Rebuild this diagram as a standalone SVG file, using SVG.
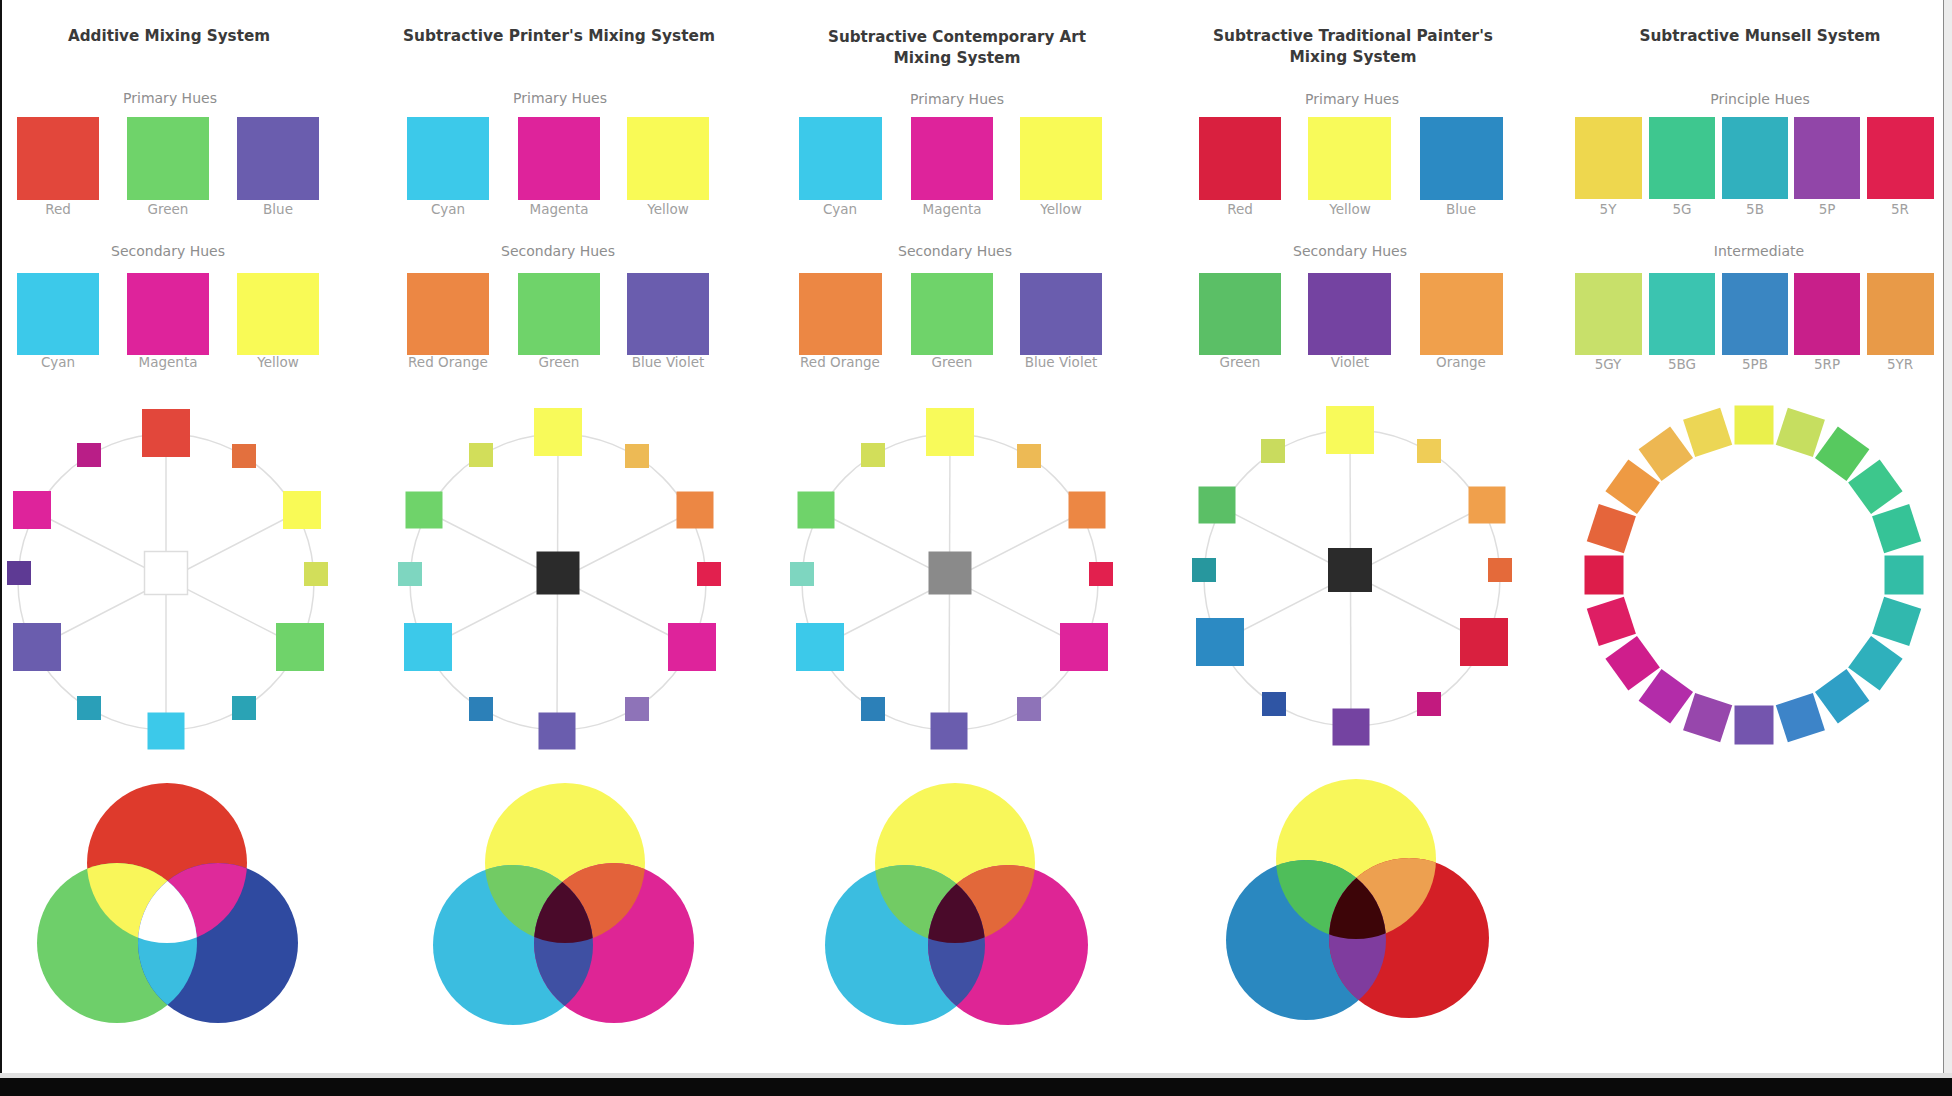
<svg xmlns="http://www.w3.org/2000/svg" width="1952" height="1096" viewBox="0 0 1952 1096">
<style>
.title{font-family:"DejaVu Sans","Liberation Sans",sans-serif;font-weight:bold;font-size:15px;fill:#3a3a3a;text-anchor:middle}
.sub{font-family:"DejaVu Sans","Liberation Sans",sans-serif;font-size:14px;fill:#8e8e8e;text-anchor:middle}
.lbl{font-family:"DejaVu Sans","Liberation Sans",sans-serif;font-size:13.5px;fill:#a0a0a0;text-anchor:middle}
.ring{fill:none;stroke:#dedede;stroke-width:1.5}
.spoke{stroke:#dedede;stroke-width:1.5}
.mun{width:39px;height:39px}
</style>
<defs>
<clipPath id="v1r"><circle cx="167" cy="863" r="80"/></clipPath>
<clipPath id="v1g"><circle cx="117" cy="943" r="80"/></clipPath>
<clipPath id="v2y"><circle cx="565" cy="863" r="80"/></clipPath>
<clipPath id="v2c"><circle cx="513" cy="945" r="80"/></clipPath>
<clipPath id="v3y"><circle cx="955" cy="863" r="80"/></clipPath>
<clipPath id="v3c"><circle cx="905" cy="945" r="80"/></clipPath>
<clipPath id="v4y"><circle cx="1356" cy="859" r="80"/></clipPath>
<clipPath id="v4b"><circle cx="1306" cy="940" r="80"/></clipPath>
</defs>
<rect x="0" y="0" width="1952" height="1096" fill="#ffffff"/>
<rect x="0" y="0" width="2" height="1096" fill="#111"/>
<rect x="1943" y="0" width="9" height="1078" fill="#ececec"/>
<line x1="1943.5" y1="0" x2="1943.5" y2="1076" stroke="#8a8a8a" stroke-width="1"/>
<rect x="0" y="1073" width="1952" height="5" fill="#e0e0e0"/>
<rect x="0" y="1078" width="1952" height="18" fill="#0a0a0a"/>

<!-- Column 1: Additive -->
<g id="additive-header">
<text class="title" x="169" y="41" textLength="202" lengthAdjust="spacingAndGlyphs">Additive Mixing System</text>
<text class="sub" x="170" y="103">Primary Hues</text>
<text class="sub" x="168" y="256">Secondary Hues</text>
</g>
<g id="additive-swatches">
<rect x="17" y="117" width="82" height="83" fill="#e2473b"/>
<rect x="127" y="117" width="82" height="83" fill="#6fd36a"/>
<rect x="237" y="117" width="82" height="83" fill="#6a5dae"/>
<text class="lbl" x="58" y="214">Red</text>
<text class="lbl" x="168" y="214">Green</text>
<text class="lbl" x="278" y="214">Blue</text>
<rect x="17" y="273" width="82" height="82" fill="#3cc9ea"/>
<rect x="127" y="273" width="82" height="82" fill="#de239b"/>
<rect x="237" y="273" width="82" height="82" fill="#f9fa56"/>
<text class="lbl" x="58" y="367">Cyan</text>
<text class="lbl" x="168" y="367">Magenta</text>
<text class="lbl" x="278" y="367">Yellow</text>
</g>

<!-- Column 2: Printer's -->
<g id="printer-header">
<text class="title" x="559" y="41" textLength="312" lengthAdjust="spacingAndGlyphs">Subtractive Printer's Mixing System</text>
<text class="sub" x="560" y="103">Primary Hues</text>
<text class="sub" x="558" y="256">Secondary Hues</text>
</g>
<g id="printer-swatches">
<rect x="407" y="117" width="82" height="83" fill="#3cc9ea"/>
<rect x="518" y="117" width="82" height="83" fill="#de239b"/>
<rect x="627" y="117" width="82" height="83" fill="#f9fa56"/>
<text class="lbl" x="448" y="214">Cyan</text>
<text class="lbl" x="559" y="214">Magenta</text>
<text class="lbl" x="668" y="214">Yellow</text>
<rect x="407" y="273" width="82" height="82" fill="#ec8744"/>
<rect x="518" y="273" width="82" height="82" fill="#6fd36a"/>
<rect x="627" y="273" width="82" height="82" fill="#6a5dae"/>
<text class="lbl" x="448" y="367">Red Orange</text>
<text class="lbl" x="559" y="367">Green</text>
<text class="lbl" x="668" y="367">Blue Violet</text>
</g>

<!-- Column 3: Contemporary Art -->
<g id="contemporary-header">
<text class="title" x="957" y="42" textLength="258" lengthAdjust="spacingAndGlyphs">Subtractive Contemporary Art</text>
<text class="title" x="957" y="63" textLength="127" lengthAdjust="spacingAndGlyphs">Mixing System</text>
<text class="sub" x="957" y="104">Primary Hues</text>
<text class="sub" x="955" y="256">Secondary Hues</text>
</g>
<g id="contemporary-swatches">
<rect x="799" y="117" width="83" height="83" fill="#3cc9ea"/>
<rect x="911" y="117" width="82" height="83" fill="#de239b"/>
<rect x="1020" y="117" width="82" height="83" fill="#f9fa56"/>
<text class="lbl" x="840" y="214">Cyan</text>
<text class="lbl" x="952" y="214">Magenta</text>
<text class="lbl" x="1061" y="214">Yellow</text>
<rect x="799" y="273" width="83" height="82" fill="#ec8744"/>
<rect x="911" y="273" width="82" height="82" fill="#6fd36a"/>
<rect x="1020" y="273" width="82" height="82" fill="#6a5dae"/>
<text class="lbl" x="840" y="367">Red Orange</text>
<text class="lbl" x="952" y="367">Green</text>
<text class="lbl" x="1061" y="367">Blue Violet</text>
</g>

<!-- Column 4: Traditional Painter's -->
<g id="traditional-header">
<text class="title" x="1353" y="41" textLength="280" lengthAdjust="spacingAndGlyphs">Subtractive Traditional Painter's</text>
<text class="title" x="1353" y="62" textLength="127" lengthAdjust="spacingAndGlyphs">Mixing System</text>
<text class="sub" x="1352" y="104">Primary Hues</text>
<text class="sub" x="1350" y="256">Secondary Hues</text>
</g>
<g id="traditional-swatches">
<rect x="1199" y="117" width="82" height="83" fill="#d9203f"/>
<rect x="1308" y="117" width="83" height="83" fill="#f8fa5a"/>
<rect x="1420" y="117" width="83" height="83" fill="#2c8ac3"/>
<text class="lbl" x="1240" y="214">Red</text>
<text class="lbl" x="1350" y="214">Yellow</text>
<text class="lbl" x="1461" y="214">Blue</text>
<rect x="1199" y="273" width="82" height="82" fill="#5bbf66"/>
<rect x="1308" y="273" width="83" height="82" fill="#7443a1"/>
<rect x="1420" y="273" width="83" height="82" fill="#f0a04c"/>
<text class="lbl" x="1240" y="367">Green</text>
<text class="lbl" x="1350" y="367">Violet</text>
<text class="lbl" x="1461" y="367">Orange</text>
</g>

<!-- Column 5: Munsell -->
<g id="munsell-header">
<text class="title" x="1760" y="41" textLength="241" lengthAdjust="spacingAndGlyphs">Subtractive Munsell System</text>
<text class="sub" x="1760" y="104">Principle Hues</text>
<text class="sub" x="1759" y="256">Intermediate</text>
</g>
<g id="munsell-swatches">
<rect x="1575" y="117" width="67" height="82" fill="#eed74e"/>
<rect x="1649" y="117" width="66" height="82" fill="#3ec78f"/>
<rect x="1722" y="117" width="66" height="82" fill="#31b0be"/>
<rect x="1794" y="117" width="66" height="82" fill="#9146a8"/>
<rect x="1867" y="117" width="67" height="82" fill="#e0204f"/>
<text class="lbl" x="1608" y="214">5Y</text>
<text class="lbl" x="1682" y="214">5G</text>
<text class="lbl" x="1755" y="214">5B</text>
<text class="lbl" x="1827" y="214">5P</text>
<text class="lbl" x="1900" y="214">5R</text>
<rect x="1575" y="273" width="67" height="82" fill="#c8e06a"/>
<rect x="1649" y="273" width="66" height="82" fill="#3bc4b0"/>
<rect x="1722" y="273" width="66" height="82" fill="#3a86c2"/>
<rect x="1794" y="273" width="66" height="82" fill="#c81f8a"/>
<rect x="1867" y="273" width="67" height="82" fill="#e89a48"/>
<text class="lbl" x="1608" y="369">5GY</text>
<text class="lbl" x="1682" y="369">5BG</text>
<text class="lbl" x="1755" y="369">5PB</text>
<text class="lbl" x="1827" y="369">5RP</text>
<text class="lbl" x="1900" y="369">5YR</text>
</g>

<!-- Connectors: rings and spokes -->
<g id="connectors">
<circle class="ring" cx="166" cy="582" r="148"/>
<line class="spoke" x1="166" y1="433" x2="166" y2="731"/>
<line class="spoke" x1="32" y1="510" x2="300" y2="647"/>
<line class="spoke" x1="302" y1="510" x2="37" y2="647"/>
<circle class="ring" cx="558" cy="582" r="148"/>
<line class="spoke" x1="558" y1="432" x2="557" y2="731"/>
<line class="spoke" x1="424" y1="510" x2="692" y2="647"/>
<line class="spoke" x1="695" y1="510" x2="428" y2="647"/>
<circle class="ring" cx="950" cy="582" r="148"/>
<line class="spoke" x1="950" y1="432" x2="949" y2="731"/>
<line class="spoke" x1="816" y1="510" x2="1084" y2="647"/>
<line class="spoke" x1="1087" y1="510" x2="820" y2="647"/>
<circle class="ring" cx="1352" cy="578" r="148"/>
<line class="spoke" x1="1350" y1="430" x2="1351" y2="727"/>
<line class="spoke" x1="1217" y1="505" x2="1484" y2="642"/>
<line class="spoke" x1="1487" y1="505" x2="1220" y2="642"/>
</g>

<!-- Wheel 1 -->
<g id="wheel-additive">
<rect x="142" y="409" width="48" height="48" fill="#e2473b"/>
<rect x="232" y="444" width="24" height="24" fill="#e3703e"/>
<rect x="283" y="491" width="38" height="38" fill="#f9fa56"/>
<rect x="304" y="562" width="24" height="24" fill="#d2de5a"/>
<rect x="276" y="623" width="48" height="48" fill="#6fd36a"/>
<rect x="232" y="696" width="24" height="24" fill="#2aa3b5"/>
<rect x="147.5" y="712.5" width="37" height="37" fill="#3cc9ea"/>
<rect x="77" y="696" width="24" height="24" fill="#2a9fb8"/>
<rect x="13" y="623" width="48" height="48" fill="#6a5dae"/>
<rect x="7" y="561" width="24" height="24" fill="#5e3a94"/>
<rect x="13" y="491" width="38" height="38" fill="#de239b"/>
<rect x="77" y="443" width="24" height="24" fill="#b91e87"/>
<rect x="144.5" y="551.5" width="43" height="43" fill="#ffffff" stroke="#dddddd" stroke-width="1.5"/>
</g>

<!-- Wheel 2 -->
<g id="wheel-printer">
<rect x="534" y="408" width="48" height="48" fill="#f8fa5a"/>
<rect x="625" y="444" width="24" height="24" fill="#edba55"/>
<rect x="676.5" y="491.5" width="37" height="37" fill="#ec8744"/>
<rect x="697" y="562" width="24" height="24" fill="#e2204e"/>
<rect x="668" y="623" width="48" height="48" fill="#de239b"/>
<rect x="625" y="697" width="24" height="24" fill="#8e73b8"/>
<rect x="538.5" y="712.5" width="37" height="37" fill="#6a5dae"/>
<rect x="469" y="697" width="24" height="24" fill="#2c80b8"/>
<rect x="404" y="623" width="48" height="48" fill="#3cc9ea"/>
<rect x="398" y="562" width="24" height="24" fill="#7ed6c0"/>
<rect x="405.5" y="491.5" width="37" height="37" fill="#6fd36a"/>
<rect x="469" y="443" width="24" height="24" fill="#d2de5a"/>
<rect x="536.5" y="551.5" width="43" height="43" fill="#2b2b2b"/>
</g>

<!-- Wheel 3 -->
<g id="wheel-contemporary">
<rect x="926" y="408" width="48" height="48" fill="#f8fa5a"/>
<rect x="1017" y="444" width="24" height="24" fill="#edba55"/>
<rect x="1068.5" y="491.5" width="37" height="37" fill="#ec8744"/>
<rect x="1089" y="562" width="24" height="24" fill="#e2204e"/>
<rect x="1060" y="623" width="48" height="48" fill="#de239b"/>
<rect x="1017" y="697" width="24" height="24" fill="#8e73b8"/>
<rect x="930.5" y="712.5" width="37" height="37" fill="#6a5dae"/>
<rect x="861" y="697" width="24" height="24" fill="#2c80b8"/>
<rect x="796" y="623" width="48" height="48" fill="#3cc9ea"/>
<rect x="790" y="562" width="24" height="24" fill="#7ed6c0"/>
<rect x="797.5" y="491.5" width="37" height="37" fill="#6fd36a"/>
<rect x="861" y="443" width="24" height="24" fill="#d2de5a"/>
<rect x="928.5" y="551.5" width="43" height="43" fill="#8a8a8a"/>
</g>

<!-- Wheel 4 -->
<g id="wheel-traditional">
<rect x="1326" y="406" width="48" height="48" fill="#f8fa5a"/>
<rect x="1417" y="439" width="24" height="24" fill="#efcd57"/>
<rect x="1468.5" y="486.5" width="37" height="37" fill="#f0a04c"/>
<rect x="1488" y="558" width="24" height="24" fill="#e46a3a"/>
<rect x="1460" y="618" width="48" height="48" fill="#d9203f"/>
<rect x="1417" y="692" width="24" height="24" fill="#c21a7f"/>
<rect x="1332.5" y="708.5" width="37" height="37" fill="#7443a1"/>
<rect x="1262" y="692" width="24" height="24" fill="#2f55a4"/>
<rect x="1196" y="618" width="48" height="48" fill="#2c8ac3"/>
<rect x="1192" y="558" width="24" height="24" fill="#27979e"/>
<rect x="1198.5" y="486.5" width="37" height="37" fill="#5bbf66"/>
<rect x="1261" y="439" width="24" height="24" fill="#c9db5e"/>
<rect x="1328" y="548" width="44" height="44" fill="#2b2b2b"/>
</g>

<!-- Munsell wheel -->
<g id="wheel-munsell">
<rect class="mun" x="1734.5" y="405.5" width="39" height="39" fill="#eaf04c"/>
<rect class="mun" x="1734.5" y="405.5" width="39" height="39" fill="#c6de60" transform="rotate(18 1754 575)"/>
<rect class="mun" x="1734.5" y="405.5" width="39" height="39" fill="#57c95f" transform="rotate(36 1754 575)"/>
<rect class="mun" x="1734.5" y="405.5" width="39" height="39" fill="#3dc78c" transform="rotate(54 1754 575)"/>
<rect class="mun" x="1734.5" y="405.5" width="39" height="39" fill="#36c397" transform="rotate(72 1754 575)"/>
<rect class="mun" x="1734.5" y="405.5" width="39" height="39" fill="#33bda6" transform="rotate(90 1754 575)"/>
<rect class="mun" x="1734.5" y="405.5" width="39" height="39" fill="#31b8ae" transform="rotate(108 1754 575)"/>
<rect class="mun" x="1734.5" y="405.5" width="39" height="39" fill="#2fb0bc" transform="rotate(126 1754 575)"/>
<rect class="mun" x="1734.5" y="405.5" width="39" height="39" fill="#2f9fc6" transform="rotate(144 1754 575)"/>
<rect class="mun" x="1734.5" y="405.5" width="39" height="39" fill="#3d84c8" transform="rotate(162 1754 575)"/>
<rect class="mun" x="1734.5" y="405.5" width="39" height="39" fill="#7455ae" transform="rotate(180 1754 575)"/>
<rect class="mun" x="1734.5" y="405.5" width="39" height="39" fill="#9747ac" transform="rotate(198 1754 575)"/>
<rect class="mun" x="1734.5" y="405.5" width="39" height="39" fill="#b32ca9" transform="rotate(216 1754 575)"/>
<rect class="mun" x="1734.5" y="405.5" width="39" height="39" fill="#cf1e8c" transform="rotate(234 1754 575)"/>
<rect class="mun" x="1734.5" y="405.5" width="39" height="39" fill="#de1e64" transform="rotate(252 1754 575)"/>
<rect class="mun" x="1734.5" y="405.5" width="39" height="39" fill="#dd1d4a" transform="rotate(270 1754 575)"/>
<rect class="mun" x="1734.5" y="405.5" width="39" height="39" fill="#e5653b" transform="rotate(288 1754 575)"/>
<rect class="mun" x="1734.5" y="405.5" width="39" height="39" fill="#ee9a43" transform="rotate(306 1754 575)"/>
<rect class="mun" x="1734.5" y="405.5" width="39" height="39" fill="#edb752" transform="rotate(324 1754 575)"/>
<rect class="mun" x="1734.5" y="405.5" width="39" height="39" fill="#ecd655" transform="rotate(342 1754 575)"/>
</g>

<!-- Venn 1 additive -->
<g id="venn-additive">
<circle cx="167" cy="863" r="80" fill="#de3a2c"/>
<circle cx="117" cy="943" r="80" fill="#6ecf6a"/>
<circle cx="218" cy="943" r="80" fill="#2f4aa0"/>
<circle cx="117" cy="943" r="80" fill="#f9f65a" clip-path="url(#v1r)"/>
<circle cx="218" cy="943" r="80" fill="#de2a9a" clip-path="url(#v1r)"/>
<circle cx="218" cy="943" r="80" fill="#3abde0" clip-path="url(#v1g)"/>
<g clip-path="url(#v1r)"><circle cx="218" cy="943" r="80" fill="#ffffff" clip-path="url(#v1g)"/></g>
</g>

<!-- Venn 2 printer -->
<g id="venn-printer">
<circle cx="565" cy="863" r="80" fill="#f8f75a"/>
<circle cx="513" cy="945" r="80" fill="#3bbde0"/>
<circle cx="614" cy="943" r="80" fill="#de2595"/>
<circle cx="513" cy="945" r="80" fill="#72cb64" clip-path="url(#v2y)"/>
<circle cx="614" cy="943" r="80" fill="#e3623a" clip-path="url(#v2y)"/>
<circle cx="614" cy="943" r="80" fill="#3f50a3" clip-path="url(#v2c)"/>
<g clip-path="url(#v2y)"><circle cx="614" cy="943" r="80" fill="#4a0a2a" clip-path="url(#v2c)"/></g>
</g>

<!-- Venn 3 contemporary -->
<g id="venn-contemporary">
<circle cx="955" cy="863" r="80" fill="#f8f75a"/>
<circle cx="905" cy="945" r="80" fill="#3bbde0"/>
<circle cx="1008" cy="945" r="80" fill="#de2595"/>
<circle cx="905" cy="945" r="80" fill="#72cb64" clip-path="url(#v3y)"/>
<circle cx="1008" cy="945" r="80" fill="#e2683a" clip-path="url(#v3y)"/>
<circle cx="1008" cy="945" r="80" fill="#3f50a3" clip-path="url(#v3c)"/>
<g clip-path="url(#v3y)"><circle cx="1008" cy="945" r="80" fill="#4a0a2a" clip-path="url(#v3c)"/></g>
</g>

<!-- Venn 4 traditional -->
<g id="venn-traditional">
<circle cx="1356" cy="859" r="80" fill="#f8f75a"/>
<circle cx="1306" cy="940" r="80" fill="#2a88c0"/>
<circle cx="1409" cy="938" r="80" fill="#d41f26"/>
<circle cx="1306" cy="940" r="80" fill="#4fbe5a" clip-path="url(#v4y)"/>
<circle cx="1409" cy="938" r="80" fill="#eda050" clip-path="url(#v4y)"/>
<circle cx="1409" cy="938" r="80" fill="#7f3c9e" clip-path="url(#v4b)"/>
<g clip-path="url(#v4y)"><circle cx="1409" cy="938" r="80" fill="#3d0508" clip-path="url(#v4b)"/></g>
</g>
</svg>
